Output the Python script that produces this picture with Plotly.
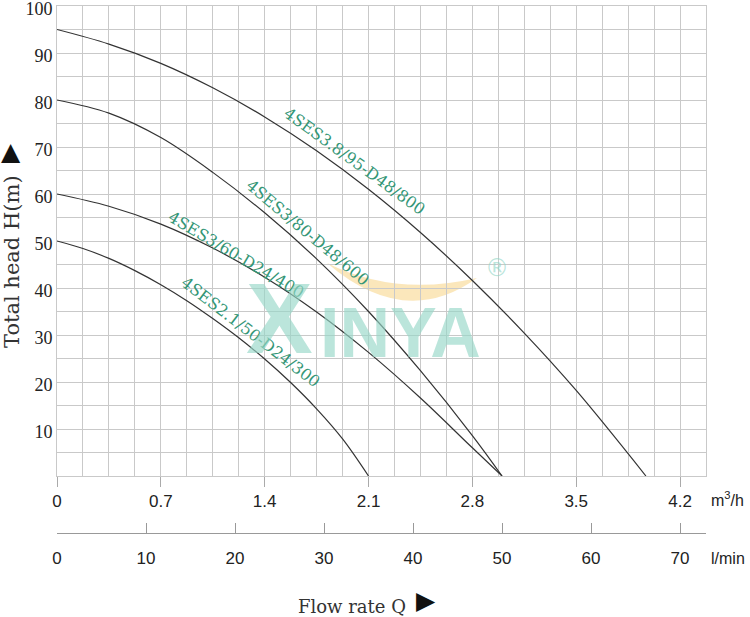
import plotly.graph_objects as go

# ---------------- data ----------------
q_95 = [0, 0.35, 0.70, 1.05, 1.40, 1.75, 2.10, 2.45, 2.80, 3.15, 3.50, 3.97]
h_95 = [95, 91.9, 87.8, 82.6, 76.4, 69.2, 61.0, 51.8, 41.6, 30.4, 18.2, 0]

q_80 = [0, 0.35, 0.70, 1.05, 1.40, 1.75, 2.10, 2.45, 2.80, 3.0]
h_80 = [80, 77.2, 72.0, 64.6, 56.0, 46.2, 35.0, 22.4, 8.6, 0]

q_60 = [0, 0.35, 0.70, 1.05, 1.40, 1.75, 2.10, 2.45, 2.80, 3.0]
h_60 = [60, 57.4, 53.6, 48.5, 42.3, 34.9, 26.3, 16.6, 6.0, 0]

q_50 = [0, 0.175, 0.35, 0.525, 0.70, 0.875, 1.05, 1.225, 1.40, 1.575, 1.75, 1.925, 2.1]
h_50 = [50, 48.4, 46.3, 43.7, 40.7, 37.3, 33.5, 29.4, 24.9, 19.9, 14.3, 7.9, 0]

curve_names = ["4SES3.8/95-D48/800", "4SES3/80-D48/600", "4SES3/60-D24/400", "4SES2.1/50-D24/300"]
label_q = [2.01, 1.69, 1.205, 1.31]
label_h = [67.0, 51.9, 47.1, 30.6]
label_angle = [36, 40, 30.5, 37.5]

m3h_ticks = [0, 0.7, 1.4, 2.1, 2.8, 3.5, 4.2]
m3h_labels = ["0", "0.7", "1.4", "2.1", "2.8", "3.5", "4.2"]
lmin_ticks = [0, 10, 20, 30, 40, 50, 60, 70]
lmin_labels = ["0", "10", "20", "30", "40", "50", "60", "70"]
head_ticks = [10, 20, 30, 40, 50, 60, 70, 80, 90, 100]
head_labels = ["10", "20", "30", "40", "50", "60", "70", "80", "90", "100"]

Q_MAX = 4.375          # m3/h at right edge (25 grid columns of 0.175)
H_MAX = 100

# ---------------- layout geometry ----------------
W, Hpx = 750, 617
ML, MR, MT, MB = 57, 44, 6, 84
PW, PH = W - ML - MR, Hpx - MT - MB
plot_bottom_px = 476
y_dom0 = (Hpx - MB - plot_bottom_px) / PH


def pxx(x):
    return (x - ML) / PW


def pxy(y):
    return (Hpx - MB - y) / PH


grid = "#c9c9c9"
line_col = "#333333"
teal = "rgb(52,150,118)"
wm = "rgba(150,215,200,0.65)"

fig = go.Figure()
for q, h in [(q_95, h_95), (q_80, h_80), (q_60, h_60), (q_50, h_50)]:
    fig.add_trace(go.Scatter(x=q, y=h, mode="lines",
                             line=dict(color=line_col, width=1.2, shape="spline", smoothing=1.0),
                             showlegend=False, hoverinfo="skip"))
# dummy trace for l/min axis
fig.add_trace(go.Scatter(x=[0], y=[None], xaxis="x2", yaxis="y", mode="lines",
                         showlegend=False, hoverinfo="skip"))

annotations = []
for name, q, h, a in zip(curve_names, label_q, label_h, label_angle):
    annotations.append(dict(x=q, y=h, xref="x", yref="y", text=name, showarrow=False, textangle=a,
                            xanchor="center", yanchor="middle",
                            font=dict(family="DejaVu Serif", size=16, color=teal)))


def pa(x, y, text, size, family, color, angle=0, yanchor="middle"):
    return dict(x=pxx(x), y=pxy(y), xref="paper", yref="paper", text=text, showarrow=False,
                xanchor="center", yanchor=yanchor, textangle=angle,
                font=dict(family=family, size=size, color=color))


annotations += [
    pa(12, 262, "Total head H(m)", 21, "DejaVu Serif", "#333", -90),
    pa(11, 151, "▲", 25, "DejaVu Sans", "#111"),
    pa(352, 606, "Flow rate Q", 18, "DejaVu Serif", "#333"),
    pa(426, 617, "▶", 25, "DejaVu Sans", "#111", yanchor="bottom"),
    pa(727, 499, "m<sup>3</sup>/h", 16, "Liberation Sans", "#222"),
    pa(728, 558, "l/min", 16, "Liberation Sans", "#222"),
    # watermark
    pa(279, 318, "<b>X</b>", 100, "Liberation Sans", wm),
    pa(400, 333, "<b>INYA</b>", 70, "Liberation Sans", wm),
    pa(497, 268, "®", 24, "DejaVu Sans", wm),
]

swoosh = "M {a},{b} Q {c},{d} {e},{f} Q {g},{h} {a},{b} Z".format(
    a=pxx(327), b=pxy(263), c=pxx(395), d=pxy(297), e=pxx(477), f=pxy(278), g=pxx(405), h=pxy(330))

fig.update_layout(
    width=W, height=Hpx,
    margin=dict(l=ML, r=MR, t=MT, b=MB, autoexpand=False),
    paper_bgcolor="white", plot_bgcolor="white",
    annotations=annotations,
    shapes=[dict(type="path", path=swoosh, xref="paper", yref="paper", line=dict(width=0),
                 fillcolor="rgba(248,208,120,0.5)", layer="below")],
    xaxis=dict(range=[0, Q_MAX], tickmode="array", tickvals=m3h_ticks, ticktext=m3h_labels,
               ticks="outside", ticklen=10, tickcolor="#aaa", showgrid=True, gridcolor=grid, gridwidth=1,
               minor=dict(dtick=0.175, tick0=0, showgrid=True, gridcolor=grid, ticks=""),
               showline=True, mirror=True, linecolor=grid, zeroline=False, anchor="y", automargin=False,
               ticklabeloverflow="allow",
               tickfont=dict(family="Liberation Sans", size=17, color="#222")),
    xaxis2=dict(range=[0, Q_MAX * 1000 / 60], overlaying="x", anchor="free", position=0, side="bottom",
                tickmode="array", tickvals=lmin_ticks, ticktext=lmin_labels, ticks="inside", ticklen=10,
                tickcolor="#999", showline=True, linecolor="#999", showgrid=False, zeroline=False,
                automargin=False, ticklabelstandoff=10, ticklabeloverflow="allow",
                tickfont=dict(family="Liberation Sans", size=17, color="#222")),
    yaxis=dict(range=[0, H_MAX], domain=[y_dom0, 1], tickmode="array", tickvals=head_ticks,
               ticktext=head_labels, ticks="", showgrid=True, gridcolor=grid, gridwidth=1,
               minor=dict(dtick=5, tick0=0, showgrid=True, gridcolor=grid, ticks=""),
               showline=True, mirror=True, linecolor=grid, zeroline=False, automargin=False,
               ticklabeloverflow="allow", ticklabelshift=3,
               tickfont=dict(family="Liberation Serif", size=18, color="#222")),
)

fig.write_html("out.html", config={"displayModeBar": False},
               post_script="document.body.style.margin='0';")
